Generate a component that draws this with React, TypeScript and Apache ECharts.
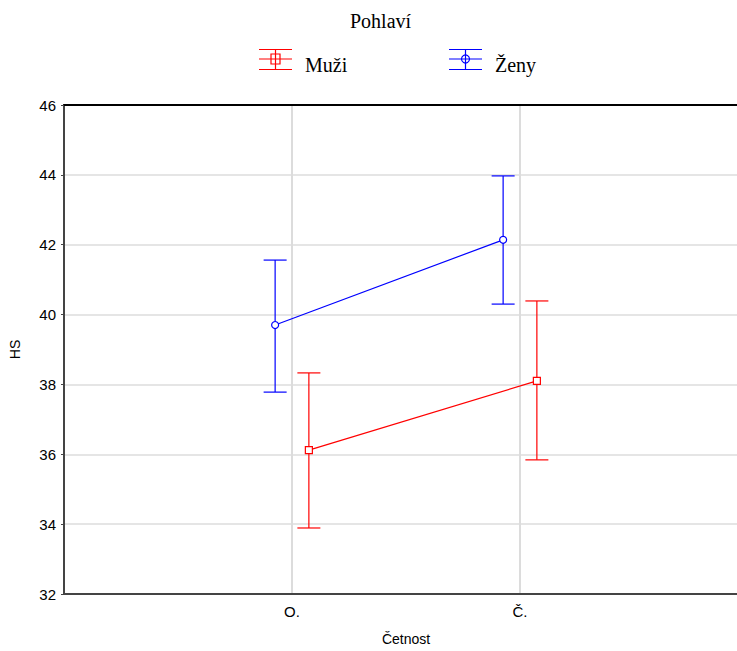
import React, { useEffect, useRef } from "react";
import * as echarts from "echarts";

const categories = ["O.", "Č."];
const muziMean = [36.12, 38.1];
const muziLow = [33.89, 35.84];
const muziHigh = [38.33, 40.39];
const zenyMean = [39.7, 42.14];
const zenyLow = [37.78, 40.3];
const zenyHigh = [41.56, 43.97];
const yTicks = [32, 34, 36, 38, 40, 42, 44, 46];

const OFFSET = 0.074;
const RED = "#ff0000";
const BLUE = "#0000ff";

function errData(low: number[], high: number[], off: number) {
  return categories.map((_, i) => [i + 1 + off, low[i], high[i]]);
}
function meanData(mean: number[], off: number) {
  return categories.map((_, i) => [i + 1 + off, mean[i]]);
}

function errRender(color: string) {
  return (params: any, api: any) => {
    const x = api.value(0);
    const lo = api.coord([x, api.value(1)]);
    const hi = api.coord([x, api.value(2)]);
    const hw = 11.5;
    const style = { stroke: color, lineWidth: 1.2 };
    return {
      type: "group",
      children: [
        { type: "line", shape: { x1: lo[0], y1: lo[1], x2: hi[0], y2: hi[1] }, style },
        { type: "line", shape: { x1: lo[0] - hw, y1: lo[1], x2: lo[0] + hw, y2: lo[1] }, style },
        { type: "line", shape: { x1: hi[0] - hw, y1: hi[1], x2: hi[0] + hw, y2: hi[1] }, style },
      ],
    };
  };
}

function legendIcon(x: number, y: number, color: string, square: boolean) {
  const style = { stroke: color, lineWidth: 1.2 };
  const cx = x + 16.5;
  return [
    { type: "line", shape: { x1: x, y1: y - 9.5, x2: x + 33, y2: y - 9.5 }, style },
    { type: "line", shape: { x1: x, y1: y, x2: x + 33, y2: y }, style },
    { type: "line", shape: { x1: x, y1: y + 10.5, x2: x + 33, y2: y + 10.5 }, style },
    { type: "line", shape: { x1: cx, y1: y - 9.5, x2: cx, y2: y + 10.5 }, style },
    square
      ? { type: "rect", shape: { x: cx - 4.5, y: y - 5, width: 9, height: 10 }, style: { stroke: color, fill: "none", lineWidth: 1.2 } }
      : { type: "circle", shape: { cx: cx, cy: y, r: 4 }, style: { stroke: color, fill: "none", lineWidth: 1.2 } },
  ];
}

export default function App() {
  const ref = useRef<HTMLDivElement>(null);
  useEffect(() => {
    if (!ref.current) return;
    const chart = echarts.init(ref.current, null, { renderer: "svg" });
    const serif = "'Liberation Serif', 'Times New Roman', serif";
    const sans = "'Liberation Sans', Arial, sans-serif";
    chart.setOption({
      animation: false,
      backgroundColor: "#ffffff",
      grid: { left: 64, width: 684, top: 105, bottom: 57, containLabel: false, outerBoundsMode: "none" },
      xAxis: [
        {
          type: "value",
          min: 0,
          max: 3,
          interval: 1,
          name: "Četnost",
          nameLocation: "middle",
          nameGap: 38,
          nameTextStyle: { fontFamily: sans, fontSize: 14, color: "#000" },
          axisLine: { show: true, lineStyle: { color: "#444", width: 2 } },
          axisTick: { show: false },
          axisLabel: {
            fontFamily: sans,
            fontSize: 15,
            color: "#000",
            margin: 10,
            formatter: (v: number) => {
              const i = Math.round(v) - 1;
              return i >= 0 && i < categories.length ? categories[i] : "";
            },
          },
          splitLine: { show: true, showMinLine: false, showMaxLine: false, lineStyle: { color: "#dcdcdc", width: 2 } },
        },
        {
          type: "value",
          position: "top",
          min: 0,
          max: 3,
          axisLine: { show: true, onZero: false, lineStyle: { color: "#000", width: 2 } },
          axisTick: { show: false },
          axisLabel: { show: false },
          splitLine: { show: false },
        },
      ],
      yAxis: {
        type: "value",
        min: yTicks[0],
        max: yTicks[yTicks.length - 1],
        interval: 2,
        name: "HS",
        nameLocation: "middle",
        nameGap: 42,
        nameRotate: 90,
        nameTextStyle: { fontFamily: sans, fontSize: 14, color: "#000" },
        axisLine: { show: true, lineStyle: { color: "#444", width: 2 } },
        axisTick: { show: true, length: 3, lineStyle: { color: "#444" } },
        axisLabel: { fontFamily: sans, fontSize: 15, color: "#000", margin: 8 },
        splitLine: { show: true, lineStyle: { color: "#dcdcdc", width: 1.5 } },
      },
      graphic: [
        {
          type: "text",
          left: 350,
          top: 11,
          style: { text: "Pohlaví", font: `20px ${serif}`, fill: "#000" },
        },
        ...legendIcon(259, 59, RED, true),
        { type: "text", left: 305, top: 55, style: { text: "Muži", font: `20px ${serif}`, fill: "#000" } },
        ...legendIcon(449, 59, BLUE, false),
        { type: "text", left: 495, top: 55, style: { text: "Ženy", font: `20px ${serif}`, fill: "#000" } },
      ],
      series: [
        {
          type: "custom",
          name: "Muži err",
          renderItem: errRender(RED),
          data: errData(muziLow, muziHigh, OFFSET),
          encode: { x: 0, y: [1, 2] },
          z: 2,
        },
        {
          type: "custom",
          name: "Ženy err",
          renderItem: errRender(BLUE),
          data: errData(zenyLow, zenyHigh, -OFFSET),
          encode: { x: 0, y: [1, 2] },
          z: 2,
        },
        {
          type: "line",
          name: "Muži",
          data: meanData(muziMean, OFFSET),
          symbol: "rect",
          symbolSize: 7,
          lineStyle: { color: RED, width: 1.2 },
          itemStyle: { color: "#fff", borderColor: RED, borderWidth: 1.2 },
          z: 3,
        },
        {
          type: "line",
          name: "Ženy",
          data: meanData(zenyMean, -OFFSET),
          symbol: "circle",
          symbolSize: 7,
          lineStyle: { color: BLUE, width: 1.2 },
          itemStyle: { color: "#fff", borderColor: BLUE, borderWidth: 1.2 },
          z: 3,
        },
      ],
    });
    return () => chart.dispose();
  }, []);
  return <div ref={ref} style={{ width: 737, height: 651, position: "absolute", left: 0, top: 0 }} />;
}
